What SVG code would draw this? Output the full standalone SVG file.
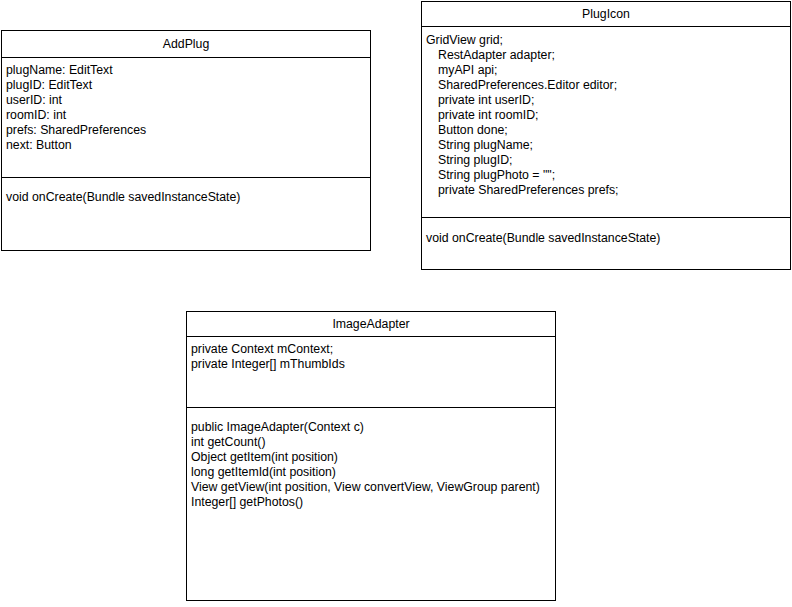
<svg xmlns="http://www.w3.org/2000/svg" width="792" height="607" viewBox="0 0 792 607">
<style>
.box{fill:#fff;stroke:#000;stroke-width:1}
.sep{stroke:#000;stroke-width:1}
text{font-family:"Liberation Sans",Arial,sans-serif;font-size:12.3px;fill:#000}
.t{text-anchor:middle}
</style>
<rect width="792" height="607" fill="#fff"/>
<g id="AddPlug">
<rect class="box" x="1.5" y="30.5" width="369" height="220"/>
<line class="sep" x1="1.5" y1="57.5" x2="370.5" y2="57.5"/>
<line class="sep" x1="1.5" y1="177.5" x2="370.5" y2="177.5"/>
<text class="t" x="186" y="48">AddPlug</text>
<text x="6" y="74">plugName: EditText</text>
<text x="6" y="89">plugID: EditText</text>
<text x="6" y="104">userID: int</text>
<text x="6" y="119">roomID: int</text>
<text x="6" y="134">prefs: SharedPreferences</text>
<text x="6" y="149">next: Button</text>
<text x="6" y="201">void onCreate(Bundle savedInstanceState)</text>
</g>
<g id="PlugIcon">
<rect class="box" x="421.5" y="1.5" width="369" height="268"/>
<line class="sep" x1="421.5" y1="26.5" x2="790.5" y2="26.5"/>
<line class="sep" x1="421.5" y1="217.5" x2="790.5" y2="217.5"/>
<text class="t" x="606" y="18">PlugIcon</text>
<text x="426" y="44">GridView grid;</text>
<text x="438" y="59">RestAdapter adapter;</text>
<text x="438" y="74">myAPI api;</text>
<text x="438" y="89">SharedPreferences.Editor editor;</text>
<text x="438" y="104">private int userID;</text>
<text x="438" y="119">private int roomID;</text>
<text x="438" y="134">Button done;</text>
<text x="438" y="149">String plugName;</text>
<text x="438" y="164">String plugID;</text>
<text x="438" y="179">String plugPhoto = "";</text>
<text x="438" y="194">private SharedPreferences prefs;</text>
<text x="426" y="242">void onCreate(Bundle savedInstanceState)</text>
</g>
<g id="ImageAdapter">
<rect class="box" x="186.5" y="311.5" width="369" height="289"/>
<line class="sep" x1="186.5" y1="336.5" x2="555.5" y2="336.5"/>
<line class="sep" x1="186.5" y1="407.5" x2="555.5" y2="407.5"/>
<text class="t" x="371" y="328">ImageAdapter</text>
<text x="191" y="353">private Context mContext;</text>
<text x="191" y="368">private Integer[] mThumbIds</text>
<text x="191" y="431">public ImageAdapter(Context c)</text>
<text x="191" y="446">int getCount()</text>
<text x="191" y="461">Object getItem(int position)</text>
<text x="191" y="476">long getItemId(int position)</text>
<text x="191" y="491">View getView(int position, View convertView, ViewGroup parent)</text>
<text x="191" y="506">Integer[] getPhotos()</text>
</g>
<g id="connectors"></g>
</svg>
